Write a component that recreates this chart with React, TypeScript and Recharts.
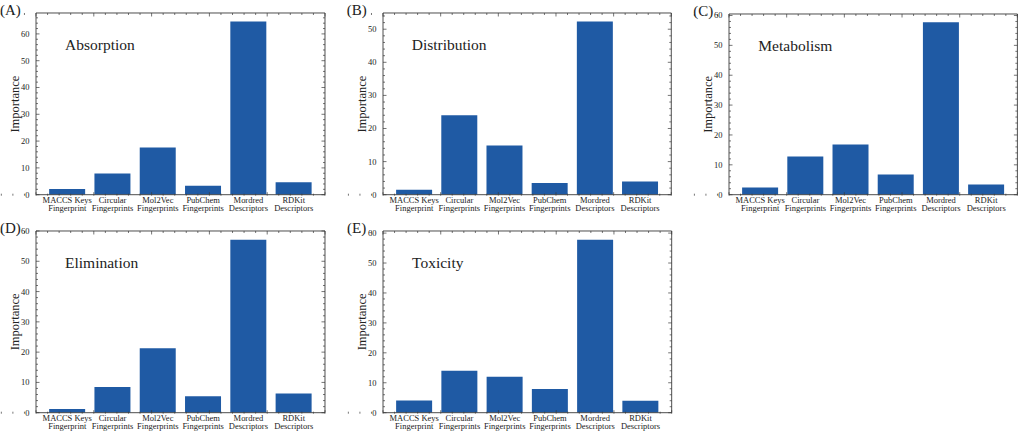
import React from "react";
import { BarChart, Bar, XAxis, YAxis } from "recharts";

// ---------------- data ----------------
const categories = [
  "MACCS Keys\nFingerprint",
  "Circular\nFingerprints",
  "Mol2Vec\nFingerprints",
  "PubChem\nFingerprints",
  "Mordred\nDescriptors",
  "RDKit\nDescriptors",
];

const absorption = [2.1, 7.9, 17.6, 3.3, 64.6, 4.6];
const distribution = [1.5, 24.0, 14.9, 3.5, 52.3, 4.0];
const metabolism = [2.4, 12.8, 16.8, 6.8, 57.7, 3.4];
const elimination = [1.2, 8.5, 21.3, 5.4, 57.1, 6.3];
const toxicity = [4.1, 14.0, 12.0, 7.9, 57.8, 4.0];

const yTicksA = [0, 10, 20, 30, 40, 50, 60];
const yTicksB = [0, 10, 20, 30, 40, 50];
const yTicksC = [0, 10, 20, 30, 40, 50, 60];
const yTicksD = [0, 10, 20, 30, 40, 50, 60];
const yTicksE = [0, 10, 20, 30, 40, 50, 60];

const yMaxes = [67.8, 54.9, 60.5, 60.0, 60.7];
const panelLetters = ["(A)", "(B)", "(C)", "(D)", "(E)"];
const panelTitles = ["Absorption", "Distribution", "Metabolism", "Elimination", "Toxicity"];
const seriesList = [absorption, distribution, metabolism, elimination, toxicity];
const majorTickList = [yTicksA, yTicksB, yTicksC, yTicksD, yTicksE];

// ---------------- layout / style ----------------
const layouts = [
  { l: 36, t: 13.3, r: 325, b: 195 },
  { l: 382.7, t: 13.3, r: 671, b: 195 },
  { l: 729.3, t: 14, r: 1017.7, b: 194.7 },
  { l: 36, t: 231, r: 325, b: 412.7 },
  { l: 383, t: 231, r: 671.7, b: 412.7 },
];

const XLIM_LO = -0.69;
const XLIM_HI = 5.69;
const BAR = "#1f5aa4";
const FRAME = "#3a3a3a";
const FONT = "'Liberation Serif', 'Times New Roman', serif";
const TXT = "#222";
const ML = 44, MR = 6, MT = 6, MB = 26;

const isMajorX = (v: number) => Math.abs(v - Math.round(v)) < 1e-6 && v >= -0.01 && v <= 5.01;

function XTick(props: any) {
  const { x, y, payload, dir } = props;
  const len = isMajorX(payload.value) ? 3.5 : 2;
  return <line x1={x} x2={x} y1={y} y2={y + dir * len} stroke={FRAME} strokeWidth={0.7} />;
}

function YTick(props: any) {
  const { x, y, payload, dir, majors, showLabel } = props;
  const major = majors.includes(payload.value);
  const len = major ? 3.5 : 2;
  return (
    <g>
      <line x1={x} x2={x + dir * len} y1={y} y2={y} stroke={FRAME} strokeWidth={0.7} />
      {major && showLabel ? (
        <text x={x - 6.5} y={y} textAnchor="end" dominantBaseline="central" fontFamily={FONT} fontSize={8.5} fill={TXT}>
          {payload.value}
        </text>
      ) : null}
    </g>
  );
}

function CatTick(props: any) {
  const { x, y, payload } = props;
  const lines = String(payload.value).split("\n");
  return (
    <g>
      {lines.map((ln, i) => (
        <text key={i} x={x} y={y + 8.3 + i * 8.4} textAnchor="middle" fontFamily={FONT} fontSize={8.5} fill={TXT}>
          {ln}
        </text>
      ))}
    </g>
  );
}

function Panel({ idx }: { idx: number }) {
  const lay = layouts[idx];
  const W = lay.r - lay.l;
  const H = lay.b - lay.t;
  const values = seriesList[idx];
  const data = categories.map((c, i) => ({ name: c, value: values[i] }));
  const yMax = yMaxes[idx];
  const majors = majorTickList[idx];
  const yTicksAll: number[] = [];
  for (let v = 0; v <= yMax + 1e-9; v += 2) yTicksAll.push(v);
  const xTicksAll: number[] = [];
  for (let k = -3; k <= 28; k++) xTicksAll.push(Math.round(k * 0.2 * 1000) / 1000);
  const unit = W / (XLIM_HI - XLIM_LO);
  const pad = (-0.5 - XLIM_LO) * unit;
  const frame = { stroke: FRAME, strokeWidth: 0.9 };

  return (
    <div style={{ position: "absolute", left: lay.l - ML, top: lay.t - MT }}>
      <BarChart
        width={W + ML + MR}
        height={H + MT + MB}
        data={data}
        margin={{ top: MT - 1, right: MR - 1, bottom: MB - 2, left: ML - 1 }}
        barCategoryGap="10%"
      >
        <XAxis
          xAxisId="cat"
          dataKey="name"
          type="category"
          orientation="bottom"
          height={1}
          padding={{ left: pad, right: pad }}
          axisLine={frame}
          tickLine={false}
          tickSize={0}
          tickMargin={0}
          interval={0}
          tick={(p: any) => <CatTick {...p} />}
        />
        <XAxis
          xAxisId="xb"
          type="number"
          orientation="bottom"
          domain={[XLIM_LO, XLIM_HI]}
          allowDataOverflow
          ticks={xTicksAll}
          height={1}
          axisLine={false}
          tickLine={false}
          tickSize={0}
          tickMargin={0}
          interval={0}
          tick={(p: any) => <XTick {...p} dir={-1} />}
        />
        <XAxis
          xAxisId="xt"
          type="number"
          orientation="top"
          domain={[XLIM_LO, XLIM_HI]}
          allowDataOverflow
          ticks={xTicksAll}
          height={1}
          axisLine={frame}
          tickLine={false}
          tickSize={0}
          tickMargin={0}
          interval={0}
          tick={(p: any) => <XTick {...p} dir={1} />}
        />
        <YAxis
          yAxisId="l"
          type="number"
          orientation="left"
          domain={[0, yMax]}
          allowDataOverflow
          ticks={yTicksAll}
          width={1}
          axisLine={frame}
          tickLine={false}
          tickSize={0}
          tickMargin={0}
          interval={0}
          tick={(p: any) => <YTick {...p} dir={1} majors={majors} showLabel />}
        />
        <YAxis
          yAxisId="r"
          type="number"
          orientation="right"
          domain={[0, yMax]}
          allowDataOverflow
          ticks={yTicksAll}
          width={1}
          axisLine={frame}
          tickLine={false}
          tickSize={0}
          tickMargin={0}
          interval={0}
          tick={(p: any) => <YTick {...p} dir={-1} majors={majors} showLabel={false} />}
        />
        <Bar xAxisId="cat" yAxisId="l" dataKey="value" fill={BAR} isAnimationActive={false} />
      </BarChart>
    </div>
  );
}

export default function App() {
  return (
    <div style={{ position: "absolute", left: 0, top: 0, width: 1020, height: 432, background: "#fff", overflow: "hidden" }}>
      {layouts.map((_, i) => (
        <Panel key={i} idx={i} />
      ))}
      <svg width={1020} height={432} style={{ position: "absolute", left: 0, top: 0, pointerEvents: "none" }}>
        {layouts.map((lay, i) => {
          const cy = (lay.t + lay.b) / 2;
          return (
            <g key={i}>
              <text x={lay.l - 36} y={lay.t + 2} fontFamily={FONT} fontSize={15} fill={TXT}>
                {panelLetters[i]}
              </text>
              <text x={lay.l + 29} y={lay.t + 37} fontFamily={FONT} fontSize={15.5} fill={TXT}>
                {panelTitles[i]}
              </text>
              <text
                x={lay.l - 17}
                y={cy}
                transform={`rotate(-90 ${lay.l - 17} ${cy})`}
                textAnchor="middle"
                fontFamily={FONT}
                fontSize={12.5}
                fill={TXT}
              >
                Importance
              </text>
            </g>
          );
        })}
      </svg>
    </div>
  );
}
